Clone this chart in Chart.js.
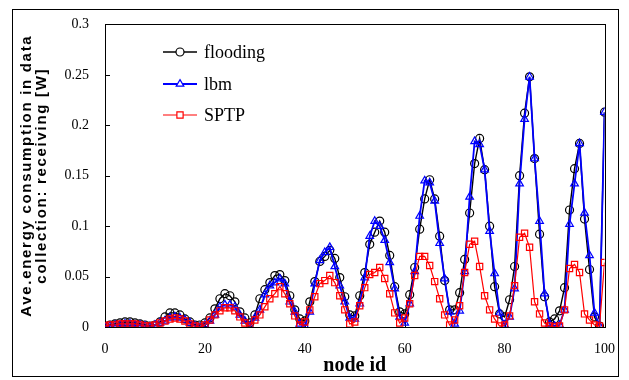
<!DOCTYPE html>
<html><head><meta charset="utf-8">
<script src="https://cdn.jsdelivr.net/npm/chart.js@4.4.1/dist/chart.umd.min.js"></script>
<style>html,body{margin:0;padding:0;background:#fff;}canvas{display:block;}</style>
</head><body>
<canvas id="c" width="629" height="380"></canvas>
<script>
const nodeIds = Array.from({length: 101}, (_, i) => i);
const flooding = [
0.001,0.002,0.003,0.004,0.005,0.005,0.004,0.003,0.002,0.001,
0.002,0.005,0.010,0.014,0.014,0.012,0.008,0.005,0.002,0.002,
0.004,0.009,0.018,0.028,0.033,0.031,0.025,0.015,0.009,0.004,
0.012,0.028,0.037,0.044,0.051,0.052,0.046,0.031,0.017,0.008,
0.006,0.025,0.045,0.065,0.070,0.076,0.068,0.049,0.030,0.012,
0.011,0.031,0.054,0.082,0.094,0.105,0.094,0.071,0.040,0.015,
0.013,0.032,0.059,0.097,0.127,0.146,0.127,0.090,0.046,0.017,
0.017,0.034,0.067,0.113,0.162,0.187,0.156,0.100,0.040,0.013,
0.010,0.027,0.060,0.150,0.212,0.248,0.167,0.092,0.030,0.005,
0.008,0.016,0.039,0.116,0.157,0.182,0.107,0.057,0.010,0.001,
0.213];
const lbm = [
0.000,0.001,0.002,0.002,0.003,0.003,0.002,0.002,0.001,0.000,
0.002,0.004,0.006,0.009,0.010,0.009,0.007,0.004,0.001,0.000,
0.002,0.006,0.012,0.020,0.022,0.022,0.020,0.012,0.006,0.001,
0.009,0.017,0.032,0.041,0.044,0.048,0.043,0.025,0.015,0.003,
0.001,0.015,0.043,0.066,0.074,0.079,0.060,0.041,0.025,0.009,
0.008,0.023,0.049,0.090,0.105,0.100,0.086,0.064,0.038,0.010,
0.004,0.023,0.055,0.110,0.145,0.143,0.125,0.083,0.048,0.015,
0.003,0.016,0.055,0.129,0.184,0.181,0.156,0.095,0.053,0.014,
0.002,0.010,0.038,0.142,0.206,0.248,0.167,0.105,0.033,0.003,
0.001,0.002,0.017,0.102,0.142,0.182,0.113,0.071,0.014,0.001,
0.213];
const sptp = [
0.001,0.002,0.002,0.003,0.003,0.003,0.003,0.002,0.001,0.001,
0.002,0.004,0.006,0.008,0.009,0.008,0.006,0.003,0.001,0.000,
0.002,0.007,0.012,0.016,0.019,0.019,0.016,0.010,0.004,0.001,
0.007,0.012,0.020,0.028,0.033,0.040,0.033,0.023,0.011,0.002,
0.005,0.017,0.030,0.043,0.046,0.051,0.044,0.031,0.017,0.003,
0.005,0.021,0.039,0.052,0.054,0.059,0.048,0.033,0.014,0.004,
0.009,0.023,0.051,0.070,0.070,0.061,0.045,0.028,0.012,0.002,
0.007,0.021,0.054,0.082,0.085,0.060,0.031,0.017,0.008,0.001,
0.002,0.011,0.041,0.089,0.093,0.079,0.025,0.013,0.004,0.001,
0.000,0.001,0.017,0.058,0.062,0.054,0.013,0.007,0.002,0.001,
0.064];
const seriesNames = ['flooding', 'lbm', 'SPTP'];
const yTickValues = [0, 0.05, 0.1, 0.15, 0.2, 0.25, 0.3];
const yTickLabels = ['0', '0.05', '0.1', '0.15', '0.2', '0.25', '0.3'];
const xTickValues = [0, 20, 40, 60, 80, 100];
const yTitle = ['Ave.energy consumption in data', 'collection: receiving [W]'];
const xTitle = 'node id';

const toXY = arr => nodeIds.map((id, i) => ({x: id, y: arr[i]}));

const framePlugin = {
  id: 'frame',
  beforeDraw(chart) {
    const ctx = chart.ctx;
    ctx.save();
    ctx.fillStyle = '#fff';
    ctx.fillRect(0, 0, chart.width, chart.height);
    ctx.strokeStyle = '#000';
    ctx.lineWidth = 1;
    ctx.strokeRect(12.5, 9.5, 606, 367);
    ctx.restore();
  },
  beforeDatasetsDraw(chart) {
    const ctx = chart.ctx, a = chart.chartArea;
    const xs = chart.scales.x, ys = chart.scales.y;
    ctx.save();
    ctx.strokeStyle = '#000';
    ctx.lineWidth = 1;
    ctx.strokeRect(Math.round(a.left) + 0.5, Math.round(a.top) + 0.5, Math.round(a.right - a.left), Math.round(a.bottom - a.top));
    ctx.beginPath();
    yTickValues.forEach(v => {
      const y = Math.round(ys.getPixelForValue(v)) + 0.5;
      ctx.moveTo(a.left, y); ctx.lineTo(a.left + 5, y);
    });
    xTickValues.forEach(v => {
      const x = Math.round(xs.getPixelForValue(v)) + 0.5;
      ctx.moveTo(x, a.bottom); ctx.lineTo(x, a.bottom - 5);
    });
    ctx.stroke();
    // y-axis title
    const cy = (a.top + a.bottom) / 2;
    ctx.fillStyle = '#000';
    ctx.font = 'bold 15px "Liberation Sans", Arial, sans-serif';
    ctx.textAlign = 'center';
    ctx.textBaseline = 'middle';
    try { ctx.letterSpacing = '1.7px'; } catch (e) {}
    [27, 42].forEach((x, i) => {
      ctx.save();
      ctx.translate(x, cy);
      ctx.rotate(-Math.PI / 2);
      ctx.fillText(yTitle[i], 0, 0);
      ctx.restore();
    });
    try { ctx.letterSpacing = '0px'; } catch (e) {}
    ctx.restore();
  },
  afterDraw(chart) {
    const ctx = chart.ctx;
    const rows = [52, 84, 115];
    ctx.save();
    chart.data.datasets.forEach((ds, i) => {
      const y = rows[i];
      ctx.strokeStyle = ds.borderColor;
      ctx.lineWidth = ds.borderWidth;
      ctx.beginPath();
      ctx.moveTo(163, y); ctx.lineTo(197, y);
      ctx.stroke();
      ctx.lineWidth = ds.pointBorderWidth;
      ctx.strokeStyle = ds.pointBorderColor;
      ctx.fillStyle = '#fff';
      Chart.helpers.drawPoint(ctx, {pointStyle: ds.pointStyle, radius: ds.pointRadius, borderWidth: ds.pointBorderWidth, rotation: 0}, 180, y);
      ctx.fillStyle = '#000';
      ctx.font = '18px "Liberation Serif", serif';
      ctx.textBaseline = 'middle';
      ctx.textAlign = 'left';
      ctx.fillText(ds.label, 204, y + 1);
    });
    ctx.restore();
  }
};

const mk = (label, data, color, style, r, lw, order) => ({
  label, data: toXY(data), borderColor: color, borderWidth: lw,
  pointStyle: style, pointRadius: r, pointBorderColor: color, pointBackgroundColor: 'rgba(0,0,0,0)',
  pointBorderWidth: 1.2, tension: 0, order
});

new Chart(document.getElementById('c'), {
  type: 'line',
  data: {
    datasets: [
      mk(seriesNames[0], flooding, '#000000', 'circle', 4, 1.4, 3),
      mk(seriesNames[1], lbm, '#0000ff', 'triangle', 4.4, 1.8, 2),
      mk(seriesNames[2], sptp, '#ff0000', 'rect', 4.4, 1.2, 1)
    ]
  },
  options: {
    responsive: false,
    animation: false,
    devicePixelRatio: 1,
    layout: {padding: {left: 12, right: 24, top: 22, bottom: 0}},
    plugins: {legend: {display: false}, tooltip: {enabled: false}},
    scales: {
      x: {
        type: 'linear', min: 0, max: 100,
        afterFit: s => { s.height = 53; },
        afterBuildTicks: s => { s.ticks = xTickValues.map(v => ({value: v})); },
        grid: {display: false, drawTicks: false},
        border: {display: false},
        ticks: {color: '#000', padding: 14, font: {family: '"Liberation Serif", serif', size: 14}, maxRotation: 0,
                callback: v => String(v)},
        title: {display: true, text: xTitle, color: '#000', font: {family: '"Liberation Serif", serif', size: 20, weight: 'bold', lineHeight: 1}, padding: {top: 0, bottom: 4}}
      },
      y: {
        type: 'linear', min: 0, max: 0.3,
        afterFit: s => { s.width = 93; },
        afterBuildTicks: s => { s.ticks = yTickValues.map(v => ({value: v})); },
        grid: {display: false, drawTicks: false},
        border: {display: false},
        ticks: {color: '#000', padding: 16, font: {family: '"Liberation Serif", serif', size: 14},
                callback: v => yTickLabels[yTickValues.findIndex(t => Math.abs(t - v) < 1e-9)]},
        title: {display: false}
      }
    }
  },
  plugins: [framePlugin]
});
</script>
</body></html>
